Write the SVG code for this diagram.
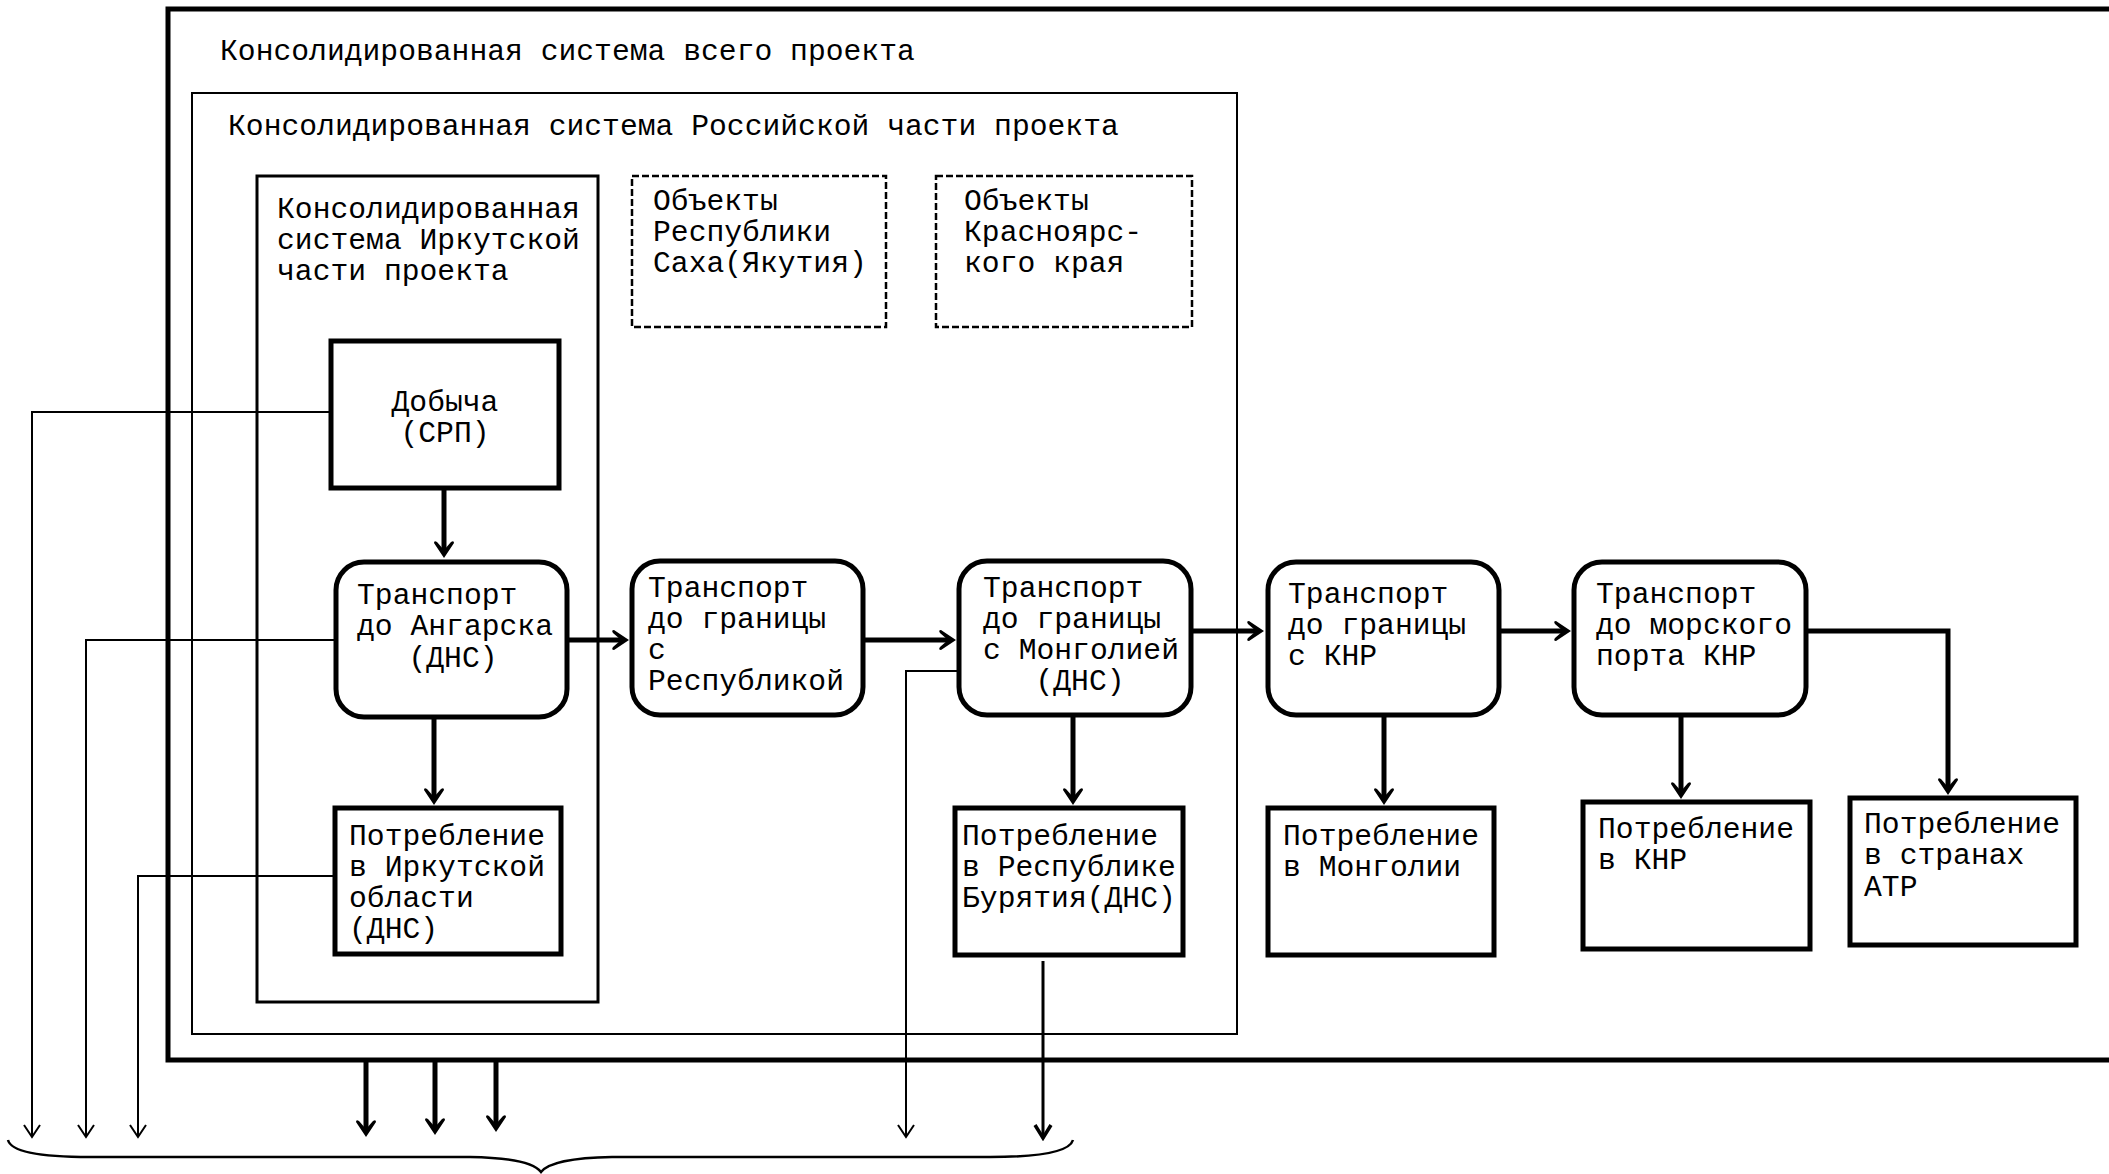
<svg xmlns="http://www.w3.org/2000/svg" width="2109" height="1174" viewBox="0 0 2109 1174">
<style>
text{font-family:"Liberation Mono","Courier New",monospace;font-size:29.7px;fill:#000}
.mid{text-anchor:middle}
.box{fill:#fff;stroke:#000;stroke-width:5}
.dash{fill:none;stroke:#000;stroke-width:2.5;stroke-dasharray:7 3}
.thick{fill:none;stroke:#000;stroke-width:5}
.thin{fill:none;stroke:#000;stroke-width:2}
.med{fill:none;stroke:#000;stroke-width:3}
</style>
<defs>
<marker id="ah" markerUnits="userSpaceOnUse" viewBox="-2 -12 22 24" markerWidth="22" markerHeight="24" refX="10" refY="0" orient="auto">
<path d="M16,0 L1,-10 Q-2,-10 0,-7 L8,0 L0,7 Q-2,10 1,10 Z" fill="#000"/>
</marker>
<marker id="ahThin" markerUnits="userSpaceOnUse" viewBox="-2 -10 16 20" markerWidth="16" markerHeight="20" refX="12" refY="0" orient="auto">
<path d="M0,-8 L12,0 L0,8" fill="none" stroke="#000" stroke-width="2"/>
</marker>
<marker id="ahMed" markerUnits="userSpaceOnUse" viewBox="-2 -11 18 22" markerWidth="18" markerHeight="22" refX="13" refY="0" orient="auto">
<path d="M0,-8 L13,0 L0,8" fill="none" stroke="#000" stroke-width="3.5"/>
</marker>
</defs>
<rect width="2109" height="1174" fill="#fff"/>

<g id="whole-project">
<rect x="168" y="9" width="2000" height="1051" fill="none" stroke="#000" stroke-width="5"/>
<text x="220" y="60">Консолидированная система всего проекта</text>
</g>
<g id="russian-part">
<rect x="192" y="93" width="1045" height="941" fill="none" stroke="#000" stroke-width="2"/>
<text x="228" y="135">Консолидированная система Российской части проекта</text>
</g>
<g id="irkutsk-part">
<rect x="257" y="176" width="341" height="826" fill="none" stroke="#000" stroke-width="3"/>
<text x="277" y="218">Консолидированная</text>
<text x="277" y="249">система Иркутской</text>
<text x="277" y="280">части проекта</text>
</g>
<g id="sakha">
<rect x="632" y="176" width="254" height="151" class="dash"/>
<text x="653" y="210">Объекты</text>
<text x="653" y="241">Республики</text>
<text x="653" y="272">Саха(Якутия)</text>
</g>
<g id="krasnoyarsk">
<rect x="936" y="176" width="256" height="151" class="dash"/>
<text x="964" y="210">Объекты</text>
<text x="964" y="241">Красноярс-</text>
<text x="964" y="272">кого края</text>
</g>

<g id="connectors">
<path class="thick" d="M444,488 V552" marker-end="url(#ah)"/>
<path class="thick" d="M567,640 H623" marker-end="url(#ah)"/>
<path class="thick" d="M863,640 H950" marker-end="url(#ah)"/>
<path class="thick" d="M1191,631 H1258" marker-end="url(#ah)"/>
<path class="thick" d="M1499,631 H1565" marker-end="url(#ah)"/>
<path class="thick" d="M434,717 V799" marker-end="url(#ah)"/>
<path class="thick" d="M1073,715 V799" marker-end="url(#ah)"/>
<path class="thick" d="M1384,715 V799" marker-end="url(#ah)"/>
<path class="thick" d="M1681,715 V793" marker-end="url(#ah)"/>
<path class="thick" d="M1806,631 H1948 V789" marker-end="url(#ah)"/>
<path class="thick" d="M366,1060 V1131" marker-end="url(#ah)"/>
<path class="thick" d="M435,1060 V1129" marker-end="url(#ah)"/>
<path class="thick" d="M496,1060 V1126" marker-end="url(#ah)"/>
<path class="thin" d="M331,412 H32 V1137" marker-end="url(#ahThin)"/>
<path class="thin" d="M336,640 H86 V1137" marker-end="url(#ahThin)"/>
<path class="thin" d="M335,876 H138 V1137" marker-end="url(#ahThin)"/>
<path class="thin" d="M959,671 H906 V1137" marker-end="url(#ahThin)"/>
<path class="med" d="M1043,961 V1138" marker-end="url(#ahMed)"/>
<path fill="none" stroke="#000" stroke-width="2.5" d="M8,1140 Q12,1157 90,1157 L470,1157 Q530,1158 541,1172 Q552,1158 612,1157 L990,1157 Q1068,1157 1073,1140"/>
</g>

<g id="dobycha">
<rect x="331" y="341" width="228" height="147" class="box"/>
<text x="445" y="411" class="mid">Добыча</text>
<text x="445" y="442" class="mid">(СРП)</text>
</g>
<g id="transport-angarsk">
<rect x="336" y="562" width="231" height="155" rx="28" class="box"/>
<text x="357" y="604">Транспорт</text>
<text x="357" y="635">до Ангарска</text>
<text x="453" y="667" class="mid">(ДНС)</text>
</g>
<g id="transport-republic">
<rect x="632" y="561" width="231" height="154" rx="28" class="box"/>
<text x="648" y="597">Транспорт</text>
<text x="648" y="628">до границы</text>
<text x="648" y="659">с</text>
<text x="648" y="690">Республикой</text>
</g>
<g id="transport-mongolia">
<rect x="959" y="561" width="232" height="154" rx="28" class="box"/>
<text x="983" y="597">Транспорт</text>
<text x="983" y="628">до границы</text>
<text x="983" y="659">с Монголией</text>
<text x="1080" y="690" class="mid">(ДНС)</text>
</g>
<g id="transport-china-border">
<rect x="1268" y="562" width="231" height="153" rx="28" class="box"/>
<text x="1288" y="603">Транспорт</text>
<text x="1288" y="634">до границы</text>
<text x="1288" y="665">с КНР</text>
</g>
<g id="transport-seaport">
<rect x="1574" y="562" width="232" height="153" rx="28" class="box"/>
<text x="1596" y="603">Транспорт</text>
<text x="1596" y="634">до морского</text>
<text x="1596" y="665">порта КНР</text>
</g>
<g id="consumption-irkutsk">
<rect x="335" y="808" width="226" height="146" class="box"/>
<text x="349" y="845">Потребление</text>
<text x="349" y="876">в Иркутской</text>
<text x="349" y="907">области</text>
<text x="349" y="938">(ДНС)</text>
</g>
<g id="consumption-buryatia">
<rect x="955" y="808" width="228" height="147" class="box"/>
<text x="962" y="845">Потребление</text>
<text x="962" y="876">в Республике</text>
<text x="962" y="907">Бурятия(ДНС)</text>
</g>
<g id="consumption-mongolia">
<rect x="1268" y="808" width="226" height="147" class="box"/>
<text x="1283" y="845">Потребление</text>
<text x="1283" y="876">в Монголии</text>
</g>
<g id="consumption-china">
<rect x="1583" y="802" width="227" height="147" class="box"/>
<text x="1598" y="838">Потребление</text>
<text x="1598" y="869">в КНР</text>
</g>
<g id="consumption-apr">
<rect x="1850" y="798" width="226" height="147" class="box"/>
<text x="1864" y="833">Потребление</text>
<text x="1864" y="864">в странах</text>
<text x="1864" y="896">АТР</text>
</g>
</svg>
